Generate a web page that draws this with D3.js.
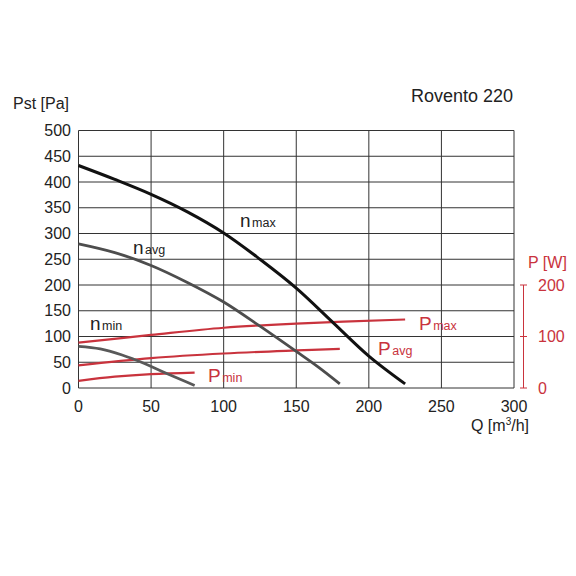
<!DOCTYPE html>
<html>
<head>
<meta charset="utf-8">
<script src="https://cdn.jsdelivr.net/npm/d3@7/dist/d3.min.js"></script>
<style>
  html, body { margin: 0; padding: 0; background: #fff; }
  text { font-family: "Liberation Sans", Arial, sans-serif; }
</style>
</head>
<body>
<div id="chart"></div>
<script>
'use strict';

// airflow Q [m3/h] and static pressure Pst [Pa] for each fan speed
const nMaxQ = [0, 25, 50, 75, 100, 125, 150, 175, 200, 225];
const nMaxP = [432, 405, 376, 342, 301, 250, 194, 128, 62, 8];
const nAvgQ = [0, 25, 50, 75, 100, 125, 150, 165, 180];
const nAvgP = [280, 263, 238, 205, 167, 120, 71, 41, 8];
const nMinQ = [0, 15, 30, 45, 60, 80];
const nMinP = [81, 76, 64, 48, 29, 5];

// power consumption P [W] for each speed
const pMaxQ = [0, 50, 100, 150, 225];
const pMaxW = [88, 103, 117, 125, 133];
const pAvgQ = [0, 50, 100, 150, 180];
const pAvgW = [44, 58, 67, 73, 76];
const pMinQ = [0, 25, 50, 80];
const pMinW = [14, 22, 27, 30];

const xTicks = [0, 50, 100, 150, 200, 250, 300];
const yTicks = [0, 50, 100, 150, 200, 250, 300, 350, 400, 450, 500];
const wTicks = [0, 100, 200];

const width = 576;
const height = 576;
const red = '#c9333d';

const svg = d3.select('#chart')
  .append('svg')
  .attr('width', width)
  .attr('height', height);

const x = d3.scaleLinear().domain([0, 300]).range([78.5, 514]);
const y = d3.scaleLinear().domain([0, 500]).range([388, 130.5]);
// power axis shares pixel scale with the pressure axis (0..200)
const yW = d3.scaleLinear().domain([0, 200]).range([y(0), y(200)]);

// grid
svg.append('g')
  .selectAll('line.v')
  .data(xTicks)
  .enter()
  .append('line')
  .attr('x1', d => x(d)).attr('x2', d => x(d))
  .attr('y1', y(0)).attr('y2', y(500))
  .attr('stroke', '#333').attr('stroke-width', 1);

svg.append('g')
  .selectAll('line.h')
  .data(yTicks)
  .enter()
  .append('line')
  .attr('x1', x(0)).attr('x2', x(300))
  .attr('y1', d => y(d)).attr('y2', d => y(d))
  .attr('stroke', '#333').attr('stroke-width', 1);

// left axis labels
svg.append('g')
  .selectAll('text')
  .data(yTicks)
  .enter()
  .append('text')
  .attr('x', 71)
  .attr('y', d => y(d) + 5.7)
  .attr('text-anchor', 'end')
  .attr('font-size', 16)
  .attr('fill', '#222')
  .text(d => d);

// bottom axis labels
svg.append('g')
  .selectAll('text')
  .data(xTicks)
  .enter()
  .append('text')
  .attr('x', d => x(d))
  .attr('y', 411.5)
  .attr('text-anchor', 'middle')
  .attr('font-size', 16)
  .attr('fill', '#222')
  .text(d => d);

// right power axis
const axisX = 523.5;
svg.append('line')
  .attr('x1', axisX).attr('x2', axisX)
  .attr('y1', yW(0)).attr('y2', yW(200))
  .attr('stroke', red).attr('stroke-width', 1);

svg.append('g')
  .selectAll('line')
  .data(wTicks)
  .enter()
  .append('line')
  .attr('x1', axisX - 3.5).attr('x2', axisX + 3.5)
  .attr('y1', d => yW(d)).attr('y2', d => yW(d))
  .attr('stroke', red).attr('stroke-width', 1);

svg.append('g')
  .selectAll('text')
  .data(wTicks)
  .enter()
  .append('text')
  .attr('x', 538)
  .attr('y', d => yW(d) + 5.7)
  .attr('font-size', 16)
  .attr('fill', red)
  .text(d => d);

// axis titles
svg.append('text')
  .attr('x', 13).attr('y', 109)
  .attr('font-size', 16).attr('fill', '#222')
  .text('Pst [Pa]');

const qLabel = svg.append('text')
  .attr('x', 529).attr('y', 431)
  .attr('text-anchor', 'end')
  .attr('font-size', 16).attr('fill', '#222');
qLabel.append('tspan').text('Q [m');
qLabel.append('tspan').attr('font-size', 10).attr('dy', -6).text('3');
qLabel.append('tspan').attr('dy', 6).text('/h]');

svg.append('text')
  .attr('x', 528).attr('y', 268)
  .attr('font-size', 16).attr('fill', red)
  .text('P [W]');

svg.append('text')
  .attr('x', 513).attr('y', 102)
  .attr('text-anchor', 'end')
  .attr('font-size', 18).attr('fill', '#222')
  .text('Rovento 220');

// curves
const line = d3.line()
  .x(d => x(d[0]))
  .y(d => y(d[1]))
  .curve(d3.curveCatmullRom.alpha(0.5));

const lineW = d3.line()
  .x(d => x(d[0]))
  .y(d => yW(d[1]))
  .curve(d3.curveCatmullRom.alpha(0.5));

const powerSeries = [
  [pMaxQ, pMaxW],
  [pAvgQ, pAvgW],
  [pMinQ, pMinW]
];

svg.append('g')
  .selectAll('path')
  .data(powerSeries)
  .enter()
  .append('path')
  .attr('d', s => lineW(d3.zip(s[0], s[1])))
  .attr('fill', 'none')
  .attr('stroke', red)
  .attr('stroke-width', 2.2);

const fanSeries = [
  { q: nMaxQ, p: nMaxP, colour: '#111', w: 3 },
  { q: nAvgQ, p: nAvgP, colour: '#4d4d4d', w: 2.8 },
  { q: nMinQ, p: nMinP, colour: '#595959', w: 2.8 }
];

svg.append('g')
  .selectAll('path')
  .data(fanSeries)
  .enter()
  .append('path')
  .attr('d', s => line(d3.zip(s.q, s.p)))
  .attr('fill', 'none')
  .attr('stroke', s => s.colour)
  .attr('stroke-width', s => s.w);

// curve labels
const curveLabels = [
  { main: 'n', sub: 'max', x: 240, y: 227, colour: '#222' },
  { main: 'n', sub: 'avg', x: 133, y: 254, colour: '#222' },
  { main: 'n', sub: 'min', x: 90, y: 330, colour: '#222' },
  { main: 'P', sub: 'max', x: 419, y: 330, colour: red },
  { main: 'P', sub: 'avg', x: 378, y: 355, colour: red },
  { main: 'P', sub: 'min', x: 208, y: 382, colour: red }
];

const lbl = svg.append('g')
  .selectAll('text')
  .data(curveLabels)
  .enter()
  .append('text')
  .attr('x', d => d.x)
  .attr('y', d => d.y)
  .attr('fill', d => d.colour);

lbl.append('tspan')
  .attr('font-size', 19)
  .text(d => d.main);
lbl.append('tspan')
  .attr('font-size', 12.5)
  .attr('dx', 1.5)
  .text(d => d.sub);
</script>
</body>
</html>
